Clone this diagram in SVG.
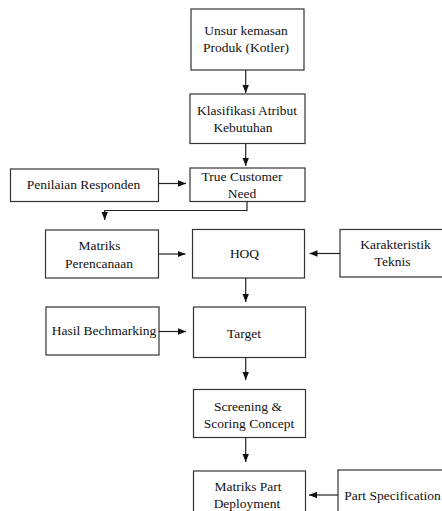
<svg xmlns="http://www.w3.org/2000/svg" width="442" height="511" viewBox="0 0 442 511">
<style>
.b{fill:#fff;stroke:#333;stroke-width:1.2}
.t{font-size:13.5px;fill:#111;text-anchor:middle}
.c{fill:none;stroke:#222;stroke-width:1.2}
</style>
<defs>
<marker id="a" viewBox="0 0 8 8" refX="8" refY="4" markerWidth="8" markerHeight="8" markerUnits="userSpaceOnUse" orient="auto">
<path d="M0,0.8 L8,4 L0,7.2 Z" fill="#111"/>
</marker>
</defs>
<rect width="442" height="511" fill="#fff"/>
<g font-family="Liberation Serif, Times New Roman, Tinos, serif">
<g id="n1"><rect class="b" x="191" y="9" width="113" height="61"/><text class="t" x="246" y="35">Unsur kemasan</text><text class="t" x="246" y="52">Produk (Kotler)</text></g>
<g id="n2"><rect class="b" x="190" y="94" width="115" height="49.5"/><text class="t" x="247" y="115">Klasifikasi Atribut</text><text class="t" x="243" y="132">Kebutuhan</text></g>
<g id="n3"><rect class="b" x="190" y="168" width="115" height="33.5"/><text class="t" x="242" y="181">True Customer</text><text class="t" x="242" y="198">Need</text></g>
<g id="n4"><rect class="b" x="10.5" y="169" width="148" height="32.5"/><text class="t" x="83.5" y="189">Penilaian Responden</text></g>
<g id="n5"><rect class="b" x="45.5" y="230" width="113" height="48"/><text class="t" x="99.5" y="249.5">Matriks</text><text class="t" x="99" y="268">Perencanaan</text></g>
<g id="n6"><rect class="b" x="192.5" y="229.5" width="112" height="48.5"/><text class="t" x="244.5" y="258">HOQ</text></g>
<g id="n7"><rect class="b" x="340" y="229.5" width="110" height="47.5"/><text class="t" x="395.5" y="249">Karakteristik</text><text class="t" x="392.5" y="266">Teknis</text></g>
<g id="n8"><rect class="b" x="46" y="307" width="113" height="48"/><text class="t" x="104" y="335">Hasil Bechmarking</text></g>
<g id="n9"><rect class="b" x="193.5" y="307" width="112" height="50.5"/><text class="t" x="244" y="337.5">Target</text></g>
<g id="n10"><rect class="b" x="193.5" y="389.5" width="112" height="48"/><text class="t" x="248" y="410.5">Screening &amp;</text><text class="t" x="249" y="427.5">Scoring Concept</text></g>
<g id="n11"><rect class="b" x="193.5" y="471" width="112" height="50"/><text class="t" x="248" y="491">Matriks Part</text><text class="t" x="247" y="508">Deployment</text></g>
<g id="n12"><rect class="b" x="338" y="470" width="115" height="50"/><text class="t" x="392.5" y="500">Part Specification</text></g>
</g>
<g id="connectors">
<path class="c" d="M245.7,70 V93" marker-end="url(#a)"/>
<path class="c" d="M245.7,143.5 V166" marker-end="url(#a)"/>
<path class="c" d="M158.5,183.5 H186" marker-end="url(#a)"/>
<path class="c" d="M247,201.5 V210.5 H104.7 V220" marker-end="url(#a)"/>
<path class="c" d="M158.5,254 H185.5" marker-end="url(#a)"/>
<path class="c" d="M340,253.5 H309.5" marker-end="url(#a)"/>
<path class="c" d="M245.7,278 V302" marker-end="url(#a)"/>
<path class="c" d="M159,331.5 H186" marker-end="url(#a)"/>
<path class="c" d="M245.7,357.5 V380" marker-end="url(#a)"/>
<path class="c" d="M245.7,437.5 V462" marker-end="url(#a)"/>
<path class="c" d="M338,495 H309" marker-end="url(#a)"/>
</g>
</svg>
